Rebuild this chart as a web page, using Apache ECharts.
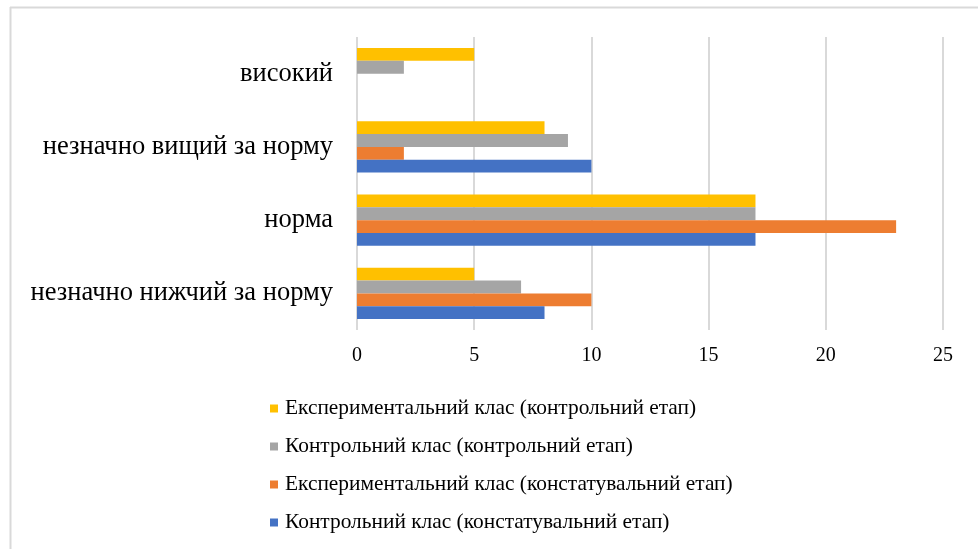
<!DOCTYPE html>
<html>
<head>
<meta charset="utf-8">
<script src="https://cdn.jsdelivr.net/npm/echarts@6/dist/echarts.min.js"></script>
<style>
html,body{margin:0;padding:0;background:#fff;}
#chart{width:978px;height:549px;}
</style>
</head>
<body>
<div id="chart"></div>
<script>
const categories = ['незначно нижчий за норму', 'норма', 'незначно вищий за норму', 'високий'];
const seriesNames = [
  'Контрольний клас (констатувальний етап)',
  'Експериментальний клас (констатувальний етап)',
  'Контрольний клас (контрольний етап)',
  'Експериментальний клас (контрольний етап)'
];
const controlStart = [8, 17, 10, 0];
const expStart = [10, 23, 2, 0];
const controlEnd = [7, 17, 9, 2];
const expEnd = [5, 17, 8, 5];
const xTicks = [0, 5, 10, 15, 20, 25];
const colors = ['#4472C4', '#ED7D31', '#A5A5A5', '#FFC000'];

const values = [controlStart, expStart, controlEnd, expEnd];
const font = '"Liberation Serif", "Times New Roman", serif';

// ECharts places the first series of a horizontal bar group at the top,
// so series are added in reverse to put the first one at the bottom.
const order = [3, 2, 1, 0];

const chart = echarts.init(document.getElementById('chart'), null, {renderer: 'canvas'});
chart.setOption({
  animation: false,
  backgroundColor: '#ffffff',
  textStyle: {fontFamily: font},
  graphic: [
    {type: 'line', shape: {x1: 10, y1: 7.5, x2: 978, y2: 7.5}, style: {stroke: '#d9d9d9', lineWidth: 2}},
    {type: 'line', shape: {x1: 10.5, y1: 7, x2: 10.5, y2: 549}, style: {stroke: '#d9d9d9', lineWidth: 2}}
  ],
  grid: {left: 357, right: 35, top: 37, bottom: 219, containLabel: false},
  xAxis: {
    type: 'value',
    min: xTicks[0],
    max: xTicks[xTicks.length - 1],
    interval: 5,
    axisLine: {show: false},
    axisTick: {show: false},
    splitLine: {show: true, lineStyle: {color: '#d9d9d9', width: 2}},
    axisLabel: {color: '#000', fontSize: 20, fontFamily: font, margin: 16}
  },
  yAxis: {
    type: 'category',
    data: categories,
    axisLine: {show: false},
    axisTick: {show: false},
    axisLabel: {color: '#000', fontSize: 26.5, fontFamily: font, margin: 24}
  },
  legend: {
    orient: 'vertical',
    left: 265,
    top: 393,
    itemWidth: 8,
    itemHeight: 8,
    itemGap: 17,
    icon: 'rect',
    data: [seriesNames[3], seriesNames[2], seriesNames[1], seriesNames[0]],
    textStyle: {color: '#000', fontSize: 21.4, fontFamily: font, lineHeight: 21, padding: [0, 0, 0, 2]}
  },
  series: order.map(i => ({
    name: seriesNames[i],
    type: 'bar',
    data: values[i],
    barGap: '0%',
    barCategoryGap: '30%',
    itemStyle: {color: colors[i]}
  }))
});
</script>
</body>
</html>
